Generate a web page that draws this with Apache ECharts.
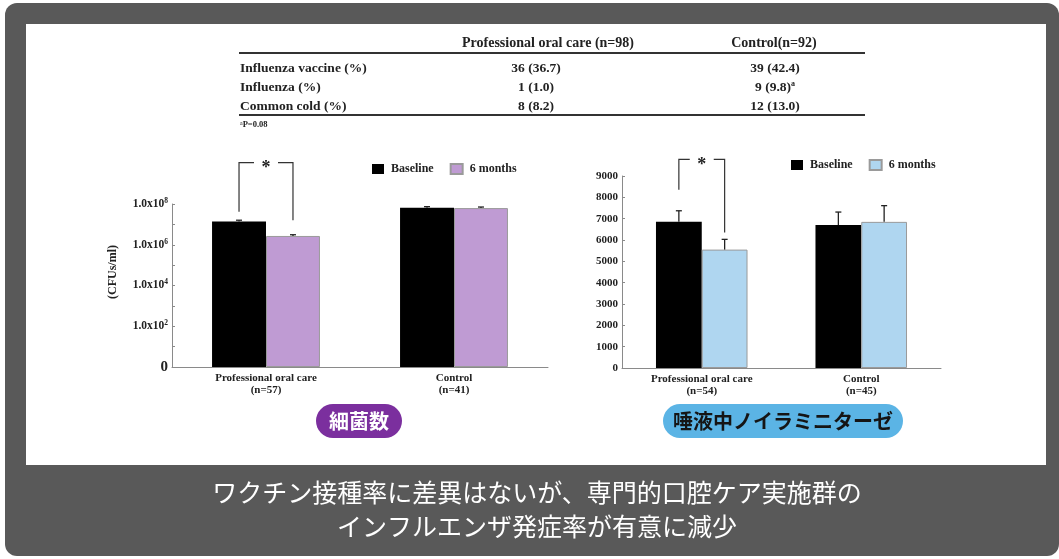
<!DOCTYPE html>
<html>
<head>
<meta charset="utf-8">
<script src="https://cdn.jsdelivr.net/npm/echarts@6/dist/echarts.min.js"></script>
<style>
  html, body { margin: 0; padding: 0; background: #ffffff; }
  #chart { width: 1059px; height: 559px; }
</style>
</head>
<body>
<div id="chart"></div>
<script>
// ---- Table: vaccination and infection counts ----
const tableHeader = ['Professional oral care (n=98)', 'Control(n=92)'];
const tableRows = ['Influenza vaccine (%)', 'Influenza (%)', 'Common cold (%)'];
const oralCareCounts = [36, 1, 8];
const oralCarePct = [36.7, 1.0, 8.2];
const controlCounts = [39, 9, 12];
const controlPct = [42.4, 9.8, 13.0];
const controlMarks = ['', 'a', ''];
const tableNote = 'P=0.08';

// ---- Shared groups ----
const groups = ['Professional oral care', 'Control'];
const seriesNames = ['Baseline', '6 months'];

// ---- Bacterial count (CFUs/ml, log scale) ----
const bacteriaN = [57, 41];
const bacteriaBaseline = [1.4e7, 6.6e7];
const bacteria6m = [2.7e6, 6.3e7];
const bacteriaBaselineErr = [2.0e6, 8.0e6];
const bacteria6mErr = [4.0e5, 8.0e6];
const bacteriaLabelExponents = [0, 2, 4, 6, 8];
const bacteriaUnit = '(CFUs/ml)';
// significance bracket: [left leg end, bracket top, right leg end]
const bacteriaBracket = [4.2e7, 1.07e10, 1.6e7];

// ---- Salivary neuraminidase ----
const enzymeN = [54, 45];
const enzymeBaseline = [6850, 6700];
const enzyme6m = [5550, 6850];
const enzymeBaselineErr = [520, 610];
const enzyme6mErr = [480, 760];
const enzymeAxisMax = 9000;
const enzymeAxisStep = 1000;
const enzymeBracket = [8350, 9780, 6350];

// ---- Panel labels and caption ----
const panelLabels = ['細菌数', '唾液中ノイラミニターゼ'];
const captionLines = ['ワクチン接種率に差異はないが、専門的口腔ケア実施群の', 'インフルエンザ発症率が有意に減少'];

const SERIF = '"Liberation Serif", "Times New Roman", serif';
const CJK = '"Noto Sans CJK JP", sans-serif';
const BAR_FRAC = 0.287;
const INK = '#222';
const AXIS = '#8a8a8a';

function bandWidth(api, v) {
  return Math.abs(api.coord([1, v])[0] - api.coord([0, v])[0]);
}

function renderError(params, api) {
  const cat = api.value(0), v = api.value(1), e = api.value(2), side = api.value(3);
  const base = api.coord([cat, v]);
  const top = api.coord([cat, v + e]);
  const x = base[0] + (side ? 1 : -1) * bandWidth(api, v) * BAR_FRAC / 2;
  const style = { stroke: INK, lineWidth: 1.3 };
  return {
    type: 'group',
    children: [
      { type: 'line', shape: { x1: x, y1: base[1], x2: x, y2: top[1] }, style },
      { type: 'line', shape: { x1: x - 3, y1: top[1], x2: x + 3, y2: top[1] }, style }
    ]
  };
}

function renderBracket(params, api) {
  const cat = api.value(0);
  const l = api.coord([cat, api.value(1)]);
  const t = api.coord([cat, api.value(2)]);
  const r = api.coord([cat, api.value(3)]);
  const half = bandWidth(api, api.value(1)) * BAR_FRAC / 2;
  const mid = l[0], xL = mid - half, xR = mid + half, gap = 12;
  const style = { stroke: '#333', lineWidth: 1.2, fill: null };
  return {
    type: 'group',
    children: [
      { type: 'polyline', shape: { points: [[xL, l[1]], [xL, t[1]], [mid - gap, t[1]]] }, style },
      { type: 'polyline', shape: { points: [[mid + gap, t[1]], [xR, t[1]], [xR, r[1]]] }, style },
      { type: 'text', style: { text: '*', x: mid, y: t[1] + 6, align: 'center', verticalAlign: 'middle',
        font: 'bold 18px ' + SERIF, fill: INK } }
    ]
  };
}

function errorData(base, baseErr, six, sixErr) {
  const out = [];
  for (let i = 0; i < base.length; i++) {
    out.push([i, base[i], baseErr[i], 0]);
    out.push([i, six[i], sixErr[i], 1]);
  }
  return out;
}

const labelText = { fontFamily: SERIF, fontWeight: 'bold', color: INK };

function categoryAxis(gridIndex, counts) {
  return {
    gridIndex, type: 'category', data: groups,
    axisLine: { lineStyle: { color: AXIS } },
    axisTick: { length: 3, lineStyle: { color: AXIS } },
    axisLabel: Object.assign({}, labelText, {
      fontSize: 11, lineHeight: 12, margin: 5,
      formatter: (v, i) => v + '\n(n=' + counts[i] + ')'
    })
  };
}

// ---- Graphic layer: frame, table, panel tags, caption ----
const graphics = [
  { type: 'rect', shape: { x: 5, y: 3, width: 1054, height: 553, r: 12 }, style: { fill: '#595959' }, z: -10 },
  { type: 'rect', shape: { x: 26, y: 24, width: 1020, height: 441 }, style: { fill: '#ffffff' }, z: -9 },
  { type: 'line', shape: { x1: 239, y1: 53, x2: 865, y2: 53 }, style: { stroke: '#333', lineWidth: 2 } },
  { type: 'line', shape: { x1: 239, y1: 115, x2: 865, y2: 115 }, style: { stroke: '#333', lineWidth: 2 } },
  { type: 'text', rotation: Math.PI / 2, x: 113, y: 272, style: { text: bacteriaUnit, x: 0, y: 0, align: 'center',
    verticalAlign: 'middle', font: 'bold 12px ' + SERIF, fill: INK } }
];
const headerX = [548, 774];
tableHeader.forEach((h, i) => graphics.push({
  type: 'text', style: { text: h, x: headerX[i], y: 43, align: 'center', verticalAlign: 'middle',
    font: 'bold 14px ' + SERIF, fill: INK }
}));
const rowY = [68.5, 88, 107];
tableRows.forEach((name, i) => {
  graphics.push({ type: 'text', style: { text: name, x: 240, y: rowY[i], align: 'left', verticalAlign: 'middle',
    font: 'bold 13.5px ' + SERIF, fill: INK } });
  graphics.push({ type: 'text', style: { text: oralCareCounts[i] + ' (' + oralCarePct[i].toFixed(1) + ')',
    x: 536, y: rowY[i], align: 'center', verticalAlign: 'middle', font: 'bold 13.5px ' + SERIF, fill: INK } });
  graphics.push({ type: 'text', style: {
    text: '{v|' + controlCounts[i] + ' (' + controlPct[i].toFixed(1) + ')}' + (controlMarks[i] ? '{s|' + controlMarks[i] + '}' : ''),
    x: 775, y: rowY[i], align: 'center', verticalAlign: 'middle',
    rich: {
      v: { font: 'bold 13.5px ' + SERIF, fill: INK, lineHeight: 16 },
      s: { font: 'bold 8px ' + SERIF, fill: INK, lineHeight: 16, verticalAlign: 'top' }
    } } });
});
graphics.push({ type: 'text', style: { text: '{s|a}{v|' + tableNote + '}', x: 240, y: 125, align: 'left', verticalAlign: 'middle',
  rich: {
    s: { font: '6px ' + SERIF, fill: INK, lineHeight: 10, verticalAlign: 'top' },
    v: { font: 'bold 8.5px ' + SERIF, fill: INK, lineHeight: 10 }
  } } });

const pills = [
  { x: 316, w: 86, fill: '#7b2f9e', color: '#ffffff' },
  { x: 663, w: 240, fill: '#5bb4e5', color: '#151515' }
];
pills.forEach((p, i) => {
  graphics.push({ type: 'rect', shape: { x: p.x, y: 404, width: p.w, height: 34, r: 17 }, style: { fill: p.fill } });
  graphics.push({ type: 'text', style: { text: panelLabels[i], x: p.x + p.w / 2, y: 421.5, align: 'center',
    verticalAlign: 'middle', font: 'bold 20px ' + CJK, fill: p.color } });
});
captionLines.forEach((line, i) => graphics.push({
  type: 'text', style: { text: line, x: 537, y: 492 + i * 34, align: 'center', verticalAlign: 'middle',
    font: '25px ' + CJK, fill: '#ffffff' }
}));

const legendBase = {
  orient: 'horizontal', itemWidth: 12, itemHeight: 10, itemGap: 16, icon: 'rect',
  textStyle: Object.assign({}, labelText, { fontSize: 12, padding: [0, 0, 0, 2] }),
  formatter: n => n.replace(/ #\d$/, ''), selectedMode: false
};

const option = {
  animation: false,
  backgroundColor: '#ffffff',
  graphic: graphics,
  legend: [
    Object.assign({}, legendBase, { left: 367, top: 158, data: seriesNames.map(n => n + ' #1') }),
    Object.assign({}, legendBase, { left: 786, top: 154, data: seriesNames.map(n => n + ' #2') })
  ],
  grid: [
    { left: 172, top: 204, width: 376, height: 163 },
    { left: 622, top: 176, width: 319, height: 192 }
  ],
  xAxis: [categoryAxis(0, bacteriaN), categoryAxis(1, enzymeN)],
  yAxis: [
    {
      gridIndex: 0, type: 'log', logBase: 10, min: 1, max: 1e8,
      axisLine: { show: true, lineStyle: { color: AXIS } },
      axisTick: { show: true, inside: true, length: 3, lineStyle: { color: AXIS } },
      splitLine: { show: false },
      axisLabel: {
        margin: 4,
        formatter: v => {
          const e = Math.round(Math.log10(v));
          if (bacteriaLabelExponents.indexOf(e) < 0) return '';
          return e === 0 ? '{z|0}' : '{m|1.0x10}{s|' + e + '}';
        },
        rich: {
          z: Object.assign({}, labelText, { fontSize: 15, lineHeight: 14 }),
          m: Object.assign({}, labelText, { fontSize: 11.5, lineHeight: 14 }),
          s: Object.assign({}, labelText, { fontSize: 7.5, lineHeight: 14, verticalAlign: 'top' })
        }
      }
    },
    {
      gridIndex: 1, type: 'value', min: 0, max: enzymeAxisMax, interval: enzymeAxisStep,
      axisLine: { show: true, lineStyle: { color: AXIS } },
      axisTick: { show: true, inside: true, length: 3, lineStyle: { color: AXIS } },
      splitLine: { show: false },
      axisLabel: Object.assign({}, labelText, { fontSize: 11, margin: 4, formatter: v => String(v) })
    }
  ],
  series: [
    { name: 'Baseline #1', type: 'bar', xAxisIndex: 0, yAxisIndex: 0, data: bacteriaBaseline,
      barWidth: (BAR_FRAC * 100) + '%', barGap: '0%', itemStyle: { color: '#000000' } },
    { name: '6 months #1', type: 'bar', xAxisIndex: 0, yAxisIndex: 0, data: bacteria6m,
      barWidth: (BAR_FRAC * 100) + '%', barGap: '0%', itemStyle: { color: '#bf9bd3', borderColor: '#9a9a9a', borderWidth: 1 } },
    { name: 'Baseline #2', type: 'bar', xAxisIndex: 1, yAxisIndex: 1, data: enzymeBaseline,
      barWidth: (BAR_FRAC * 100) + '%', barGap: '0%', itemStyle: { color: '#000000' } },
    { name: '6 months #2', type: 'bar', xAxisIndex: 1, yAxisIndex: 1, data: enzyme6m,
      barWidth: (BAR_FRAC * 100) + '%', barGap: '0%', itemStyle: { color: '#afd6f0', borderColor: '#9a9a9a', borderWidth: 1 } },
    { type: 'custom', xAxisIndex: 0, yAxisIndex: 0, z: 5, clip: false, renderItem: renderError,
      data: errorData(bacteriaBaseline, bacteriaBaselineErr, bacteria6m, bacteria6mErr) },
    { type: 'custom', xAxisIndex: 1, yAxisIndex: 1, z: 5, clip: false, renderItem: renderError,
      data: errorData(enzymeBaseline, enzymeBaselineErr, enzyme6m, enzyme6mErr) },
    { type: 'custom', xAxisIndex: 0, yAxisIndex: 0, z: 5, clip: false, renderItem: renderBracket,
      data: [[0].concat(bacteriaBracket)] },
    { type: 'custom', xAxisIndex: 1, yAxisIndex: 1, z: 5, clip: false, renderItem: renderBracket,
      data: [[0].concat(enzymeBracket)] }
  ]
};

const chart = echarts.init(document.getElementById('chart'), null, { renderer: 'canvas' });
chart.setOption(option);
</script>
</body>
</html>
